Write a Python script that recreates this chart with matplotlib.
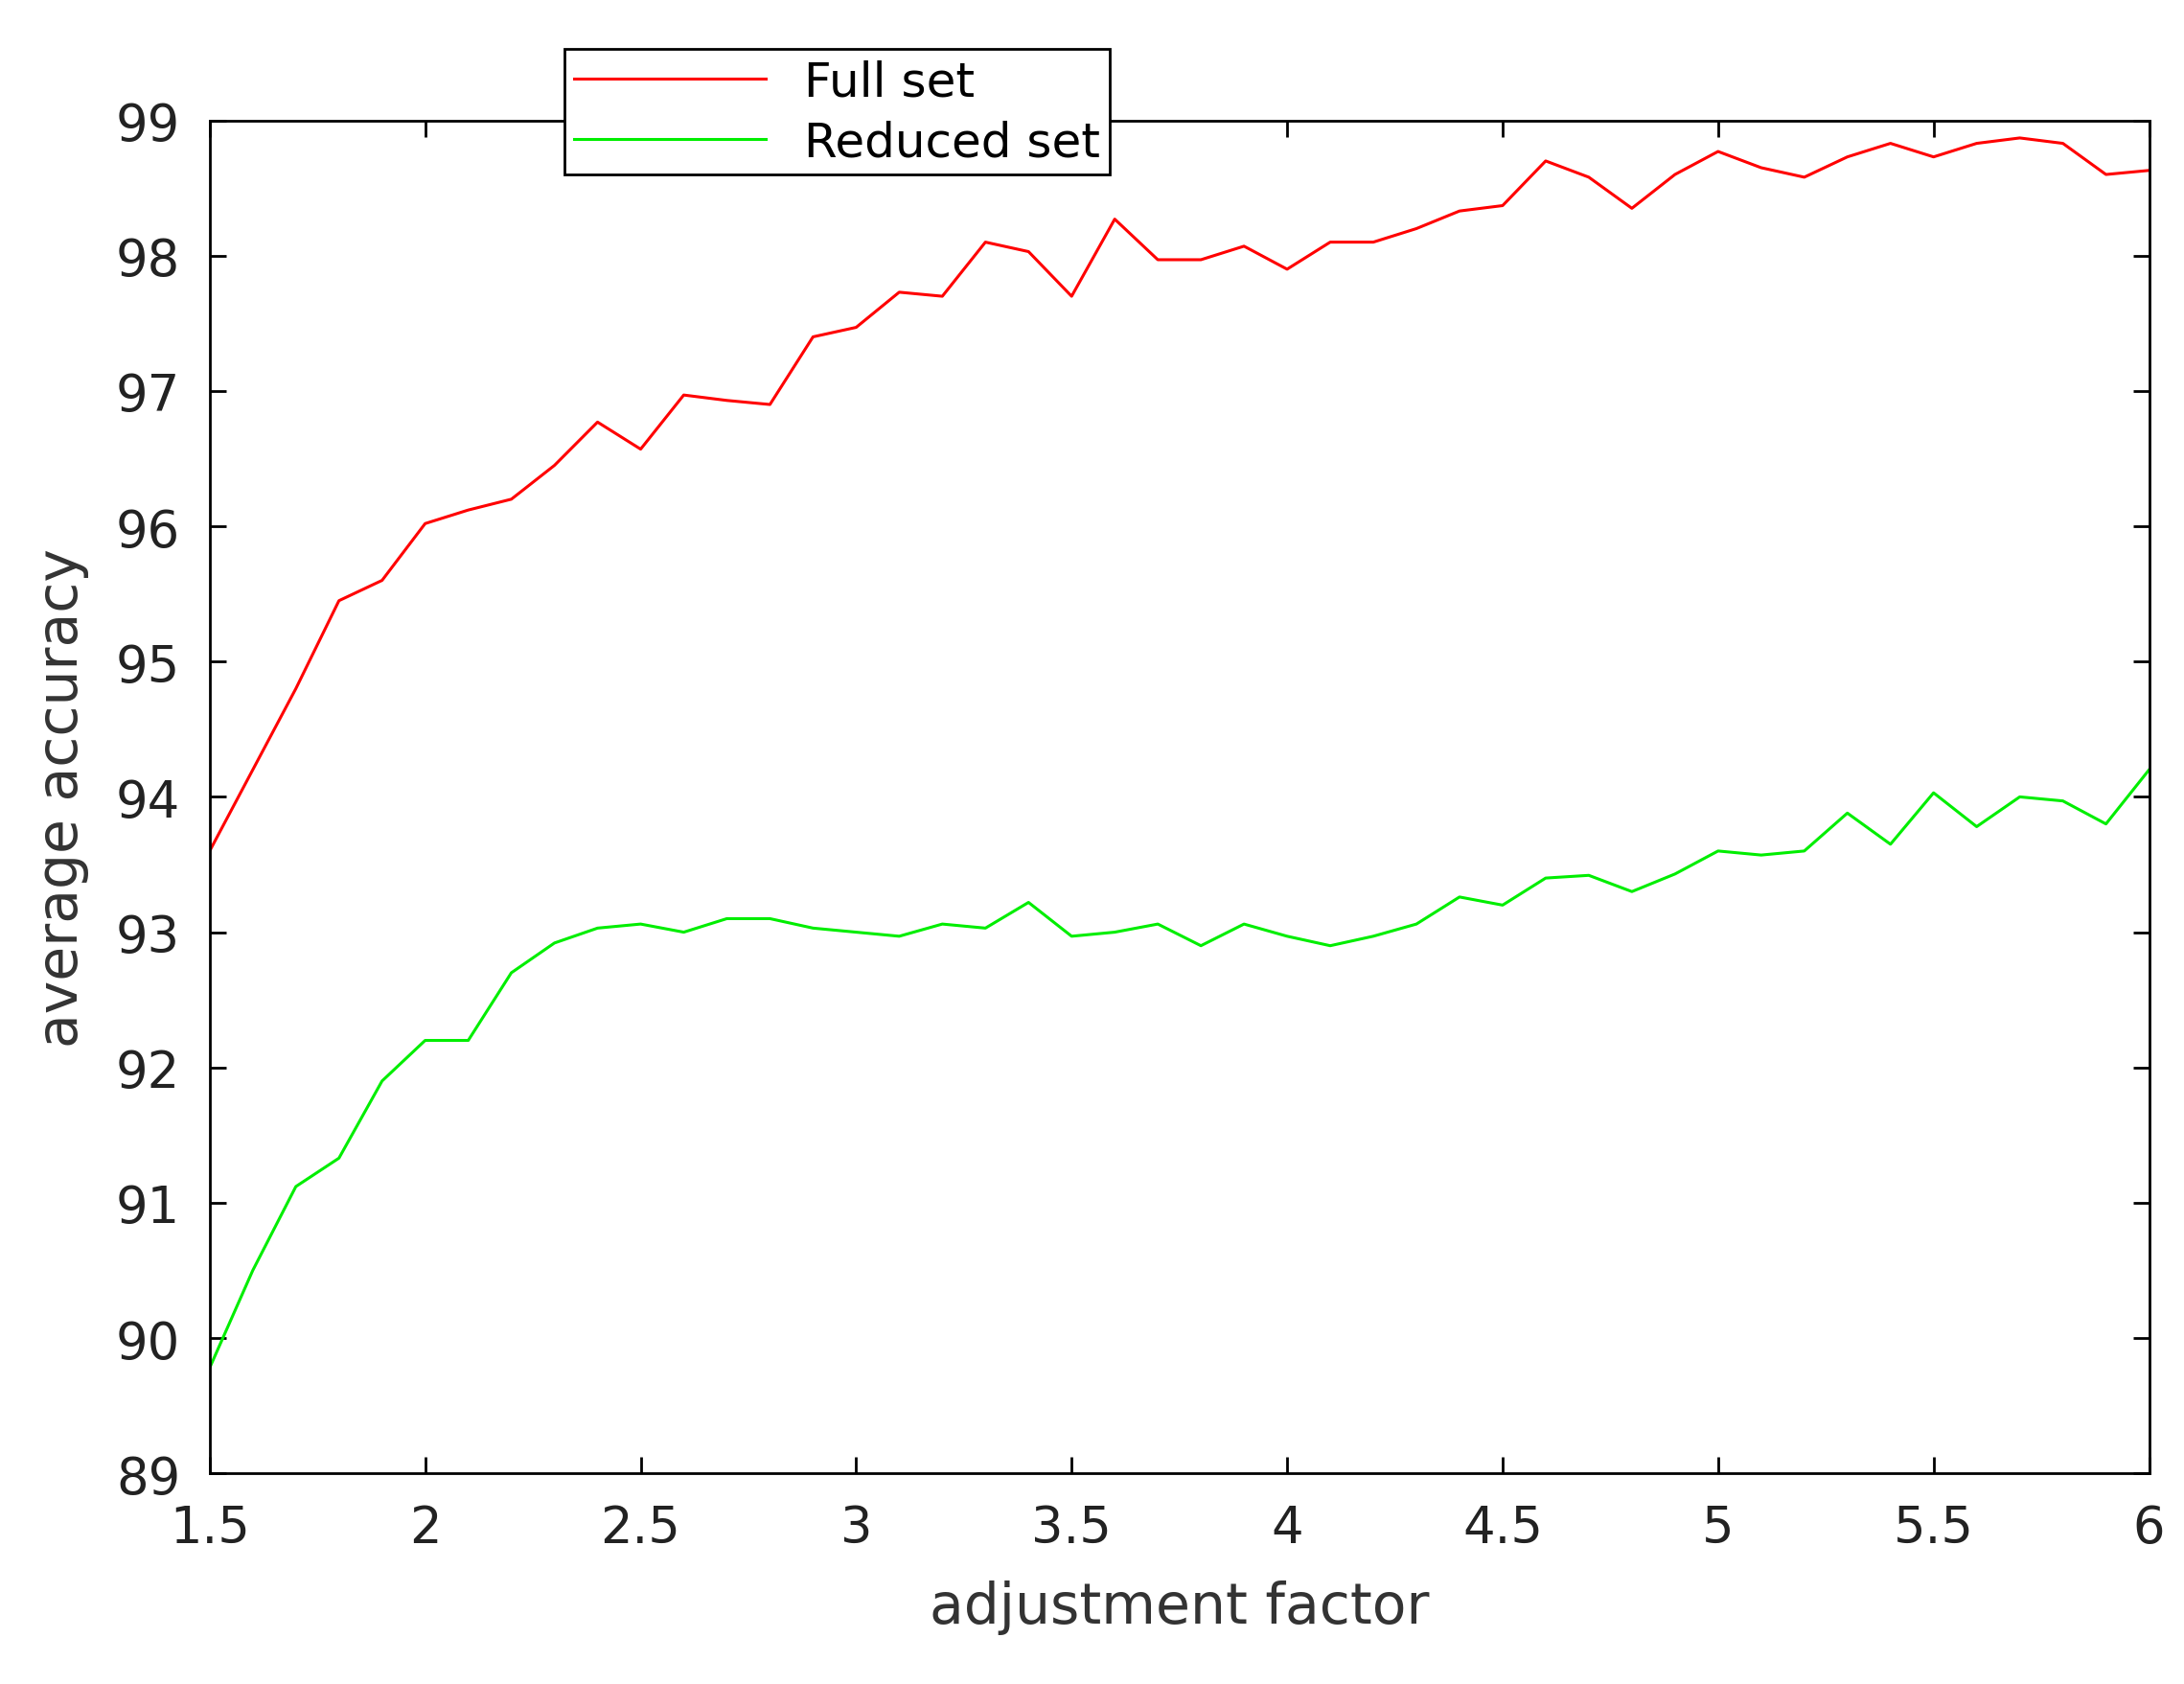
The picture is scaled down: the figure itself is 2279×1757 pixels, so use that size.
import numpy as np
import matplotlib.pyplot as plt

factor = [1.5, 1.6, 1.7, 1.8, 1.9, 2.0, 2.1, 2.2, 2.3, 2.4, 2.5, 2.6, 2.7, 2.8, 2.9,
          3.0, 3.1, 3.2, 3.3, 3.4, 3.5, 3.6, 3.7, 3.8, 3.9, 4.0, 4.1, 4.2, 4.3, 4.4,
          4.5, 4.6, 4.7, 4.8, 4.9, 5.0, 5.1, 5.2, 5.3, 5.4, 5.5, 5.6, 5.7, 5.8, 5.9, 6.0]

full_set = [93.6, 94.2, 94.8, 95.45, 95.6, 96.02, 96.12, 96.2, 96.45, 96.77, 96.57,
            96.97, 96.93, 96.9, 97.4, 97.47, 97.73, 97.7, 98.1, 98.03, 97.7, 98.27,
            97.97, 97.97, 98.07, 97.9, 98.1, 98.1, 98.2, 98.33, 98.37, 98.7, 98.58,
            98.35, 98.6, 98.77, 98.65, 98.58, 98.73, 98.83, 98.73, 98.83, 98.87,
            98.83, 98.6, 98.63]

reduced_set = [89.78, 90.5, 91.12, 91.33, 91.9, 92.2, 92.2, 92.7, 92.92, 93.03, 93.06,
               93.0, 93.1, 93.1, 93.03, 93.0, 92.97, 93.06, 93.03, 93.22, 92.97, 93.0,
               93.06, 92.9, 93.06, 92.97, 92.9, 92.97, 93.06, 93.26, 93.2, 93.4, 93.42,
               93.3, 93.43, 93.6, 93.57, 93.6, 93.88, 93.65, 94.03, 93.78, 94.0, 93.97,
               93.8, 94.2]

fig = plt.figure(figsize=(22.79, 17.58), dpi=100)
ax = fig.add_axes([0.096, 0.125, 0.888, 0.803])

ax.plot(factor, full_set, color='#ff0000', lw=2.2, label='Full set')
ax.plot(factor, reduced_set, color='#00ee00', lw=2.2, label='Reduced set')

ax.set_xlim(1.5, 6)
ax.set_ylim(89, 99)
ax.set_xticks(np.arange(1.5, 6.01, 0.5))
ax.set_xticklabels(['1.5', '2', '2.5', '3', '3.5', '4', '4.5', '5', '5.5', '6'])
ax.set_yticks(range(89, 100))
ax.tick_params(direction='in', top=True, right=True, labelsize=38, length=12, width=2,
               pad=22, labelcolor='#222222')
for s in ax.spines.values():
    s.set_linewidth(2)
ax.set_xlabel('adjustment factor', fontsize=42, color='#333333', labelpad=20)
ax.set_ylabel('average accuracy', fontsize=42, color='#333333', labelpad=20)

leg = ax.legend(loc='lower left', bbox_to_anchor=(0.183, 0.96), fontsize=36,
                fancybox=False, edgecolor='black', framealpha=1,
                handlelength=4.0, borderpad=0.2, labelspacing=0.3, borderaxespad=0)
leg.get_frame().set_linewidth(2)

fig.savefig('out.png')
